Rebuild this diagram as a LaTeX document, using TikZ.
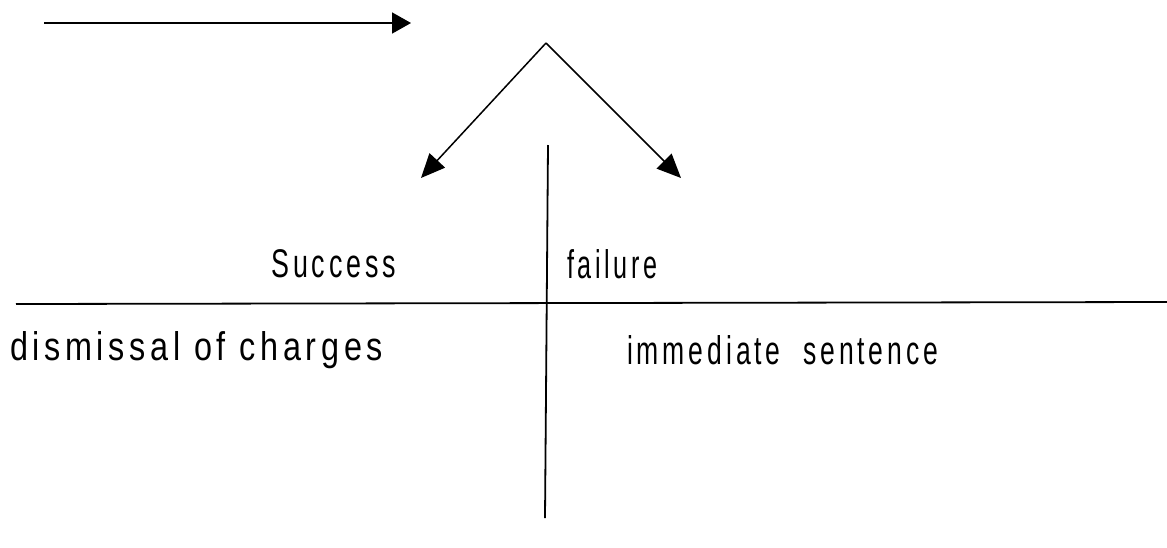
\documentclass[tikz,border=0pt]{standalone}
\usepackage{fontspec}
\usepackage{graphicx}
\setmainfont{Liberation Sans}[FakeStretch=0.82,LetterSpace=12]
\usetikzlibrary{arrows.meta}
\tikzset{
  line/.style={line width=1.8pt,black},
  arr/.style={line, -{Triangle[length=19pt,width=21pt]}},
  darr/.style={line width=1.5pt, -{Triangle[length=24pt,width=21pt]}},
  lab/.style={inner sep=0pt, font=\fontsize{40}{46}\selectfont},
}
\newcommand{\fitw}[2]{\resizebox{#1}{\height}{#2}}
\begin{document}
\begin{tikzpicture}[x=1pt,y=-1pt]
\useasboundingbox[fill=white] (0,0) rectangle (1167,547);
% top arrow
\coordinate (s0) at (44,23);
\coordinate (s1) at (411,23);
\draw[arr] (s0) -- (s1);
% fork
\coordinate (apex) at (546,43);
\coordinate (lt) at (421,178);
\coordinate (rt) at (681,178);
\draw[darr] (apex) -- (lt);
\draw[darr] (apex) -- (rt);
% T-chart lines
\coordinate (v0) at (548,145);
\coordinate (v1) at (545,518);
\coordinate (h0) at (16,304);
\coordinate (h1) at (1167,302);
\draw[line] (v0) -- (v1);
\draw[line] (h0) -- (h1);
% labels
\node[lab,anchor=west] (succ) at (271,264) {\fitw{125pt}{Success}};
\node[lab,anchor=west] (fail) at (567,264) {\fitw{90pt}{fai\kern4pt lure}};
\node[lab,anchor=west] (dism) at (10,350) {\fitw{373pt}{dism\kern4pt issal of charges}};
\node[lab,anchor=west] (imm) at (627,350) {\fitw{311pt}{immediate\ \ sentence}};
\end{tikzpicture}
\end{document}
